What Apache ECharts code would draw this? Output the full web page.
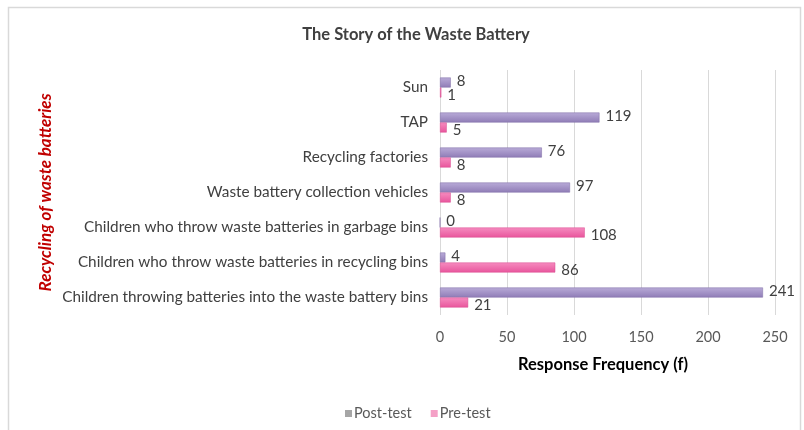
<!DOCTYPE html>
<html>
<head>
<meta charset="utf-8">
<script src="https://cdn.jsdelivr.net/npm/echarts@6/dist/echarts.min.js"></script>
<style>
  html, body { margin: 0; padding: 0; background: #ffffff; }
  #chart { width: 804px; height: 430px; }
</style>
</head>
<body>
<div id="chart"></div>
<script>
// Categories listed bottom to top (category axis runs upward)
const categories = [
  'Children throwing batteries into the waste battery bins',
  'Children who throw waste batteries in recycling bins',
  'Children who throw waste batteries in garbage bins',
  'Waste battery collection vehicles',
  'Recycling factories',
  'TAP',
  'Sun'
];
const postTest = [241, 4, 0, 97, 76, 119, 8];
const preTest = [21, 86, 108, 8, 8, 5, 1];
const xTicks = [0, 50, 100, 150, 200, 250];

const FONT = 'Lato, "Open Sans", sans-serif';
const TEXT = '#404040';

const chart = echarts.init(document.getElementById('chart'));

function shade(c1, c2) {
  return new echarts.graphic.LinearGradient(0, 0, 0, 1, [
    { offset: 0, color: c1 },
    { offset: 1, color: c2 }
  ]);
}

chart.setOption({
  animation: false,
  backgroundColor: '#ffffff',
  graphic: [{
    type: 'rect',
    shape: { x: 8.5, y: 7.5, width: 792, height: 440 },
    style: { fill: 'none', stroke: '#d9d9d9', lineWidth: 1.5 },
    silent: true
  }],
  title: {
    text: 'The Story of the Waste Battery',
    left: 411,
    textAlign: 'center',
    top: 21,
    textStyle: { fontFamily: FONT, fontSize: 16.5, fontWeight: 'bold', color: TEXT }
  },
  legend: {
    data: [
      { name: 'Post-test', itemStyle: { color: '#a6a6a6', borderWidth: 0 } },
      { name: 'Pre-test', itemStyle: { color: '#f4a0c6', borderWidth: 0 } }
    ],
    left: 340,
    top: 401,
    itemWidth: 7,
    itemHeight: 7,
    itemGap: 19,
    icon: 'rect',
    textStyle: { fontFamily: FONT, fontSize: 14.5, color: '#595959', padding: [0, 0, 0, -3] }
  },
  grid: { left: 440, right: 29, top: 70, bottom: 115, containLabel: false },
  xAxis: {
    type: 'value',
    min: xTicks[0],
    max: xTicks[xTicks.length - 1],
    interval: 50,
    name: 'Response Frequency (f)',
    nameLocation: 'middle',
    nameGap: 41,
    nameTextStyle: { fontFamily: FONT, fontSize: 16.5, fontWeight: 'bold', color: '#000000', padding: [0, 9, 0, 0] },
    axisLine: { show: false },
    axisTick: { show: false },
    axisLabel: { fontFamily: FONT, fontSize: 14.5, color: '#595959', margin: 15 },
    splitLine: { show: true, lineStyle: { color: '#d9d9d9', width: 1 } }
  },
  yAxis: {
    type: 'category',
    data: categories,
    name: 'Recycling of waste batteries',
    nameLocation: 'middle',
    nameGap: 386,
    nameRotate: 90,
    nameTextStyle: { fontFamily: FONT, fontSize: 17, fontWeight: 'bold', fontStyle: 'italic', color: '#c00000' },
    axisLine: { show: false },
    axisTick: { show: false },
    axisLabel: { fontFamily: FONT, fontSize: 15.3, color: TEXT, margin: 12 }
  },
  series: [
    {
      name: 'Post-test',
      type: 'bar',
      data: postTest,
      barWidth: 10,
      barGap: '0%',
      itemStyle: {
        color: shade('#b9abd8', '#8f7cb6'),
        borderColor: '#7d6aa5',
        borderWidth: 0.5
      },
      label: {
        show: true, position: 'right', distance: 6, offset: [0, -1],
        fontFamily: FONT, fontSize: 15, color: TEXT
      }
    },
    {
      name: 'Pre-test',
      type: 'bar',
      data: preTest,
      barWidth: 10,
      itemStyle: {
        color: shade('#f68cc0', '#e8559c'),
        borderColor: '#d8488e',
        borderWidth: 0.5
      },
      label: {
        show: true, position: 'right', distance: 6, offset: [0, 3],
        fontFamily: FONT, fontSize: 15, color: TEXT
      }
    }
  ]
});
</script>
</body>
</html>
